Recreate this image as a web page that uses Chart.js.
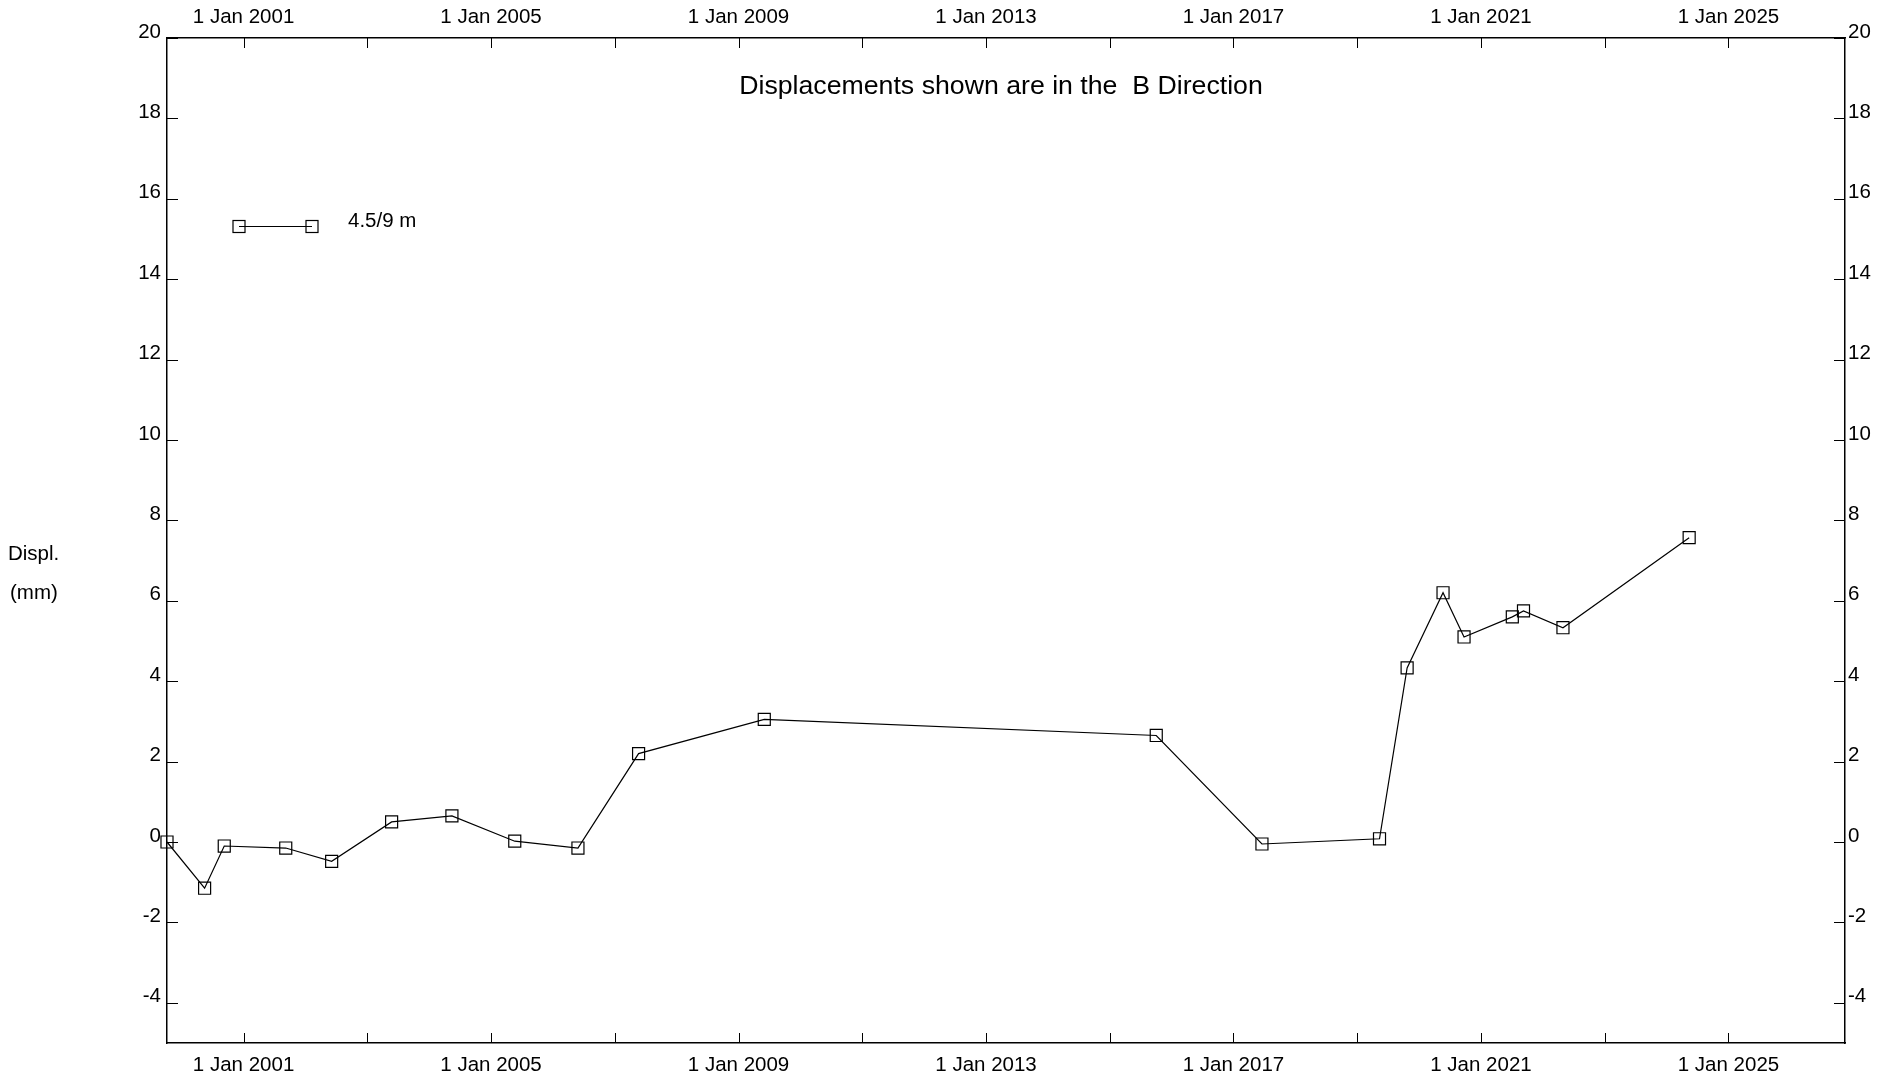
<!DOCTYPE html>
<html>
<head>
<meta charset="utf-8">
<script src="https://cdn.jsdelivr.net/npm/chart.js@4.4.1/dist/chart.umd.min.js"></script>
<style>
html, body { margin: 0; padding: 0; background: #fff; }
#wrap { width: 1892px; height: 1078px; }
</style>
</head>
<body>
<div id="wrap"><canvas id="displChart" width="1892" height="1078"></canvas></div>
<script>
// survey readings
const surveyDates = [
  '1999-10-07', '2000-05-16', '2000-09-09', '2001-09-07', '2002-06-05',
  '2003-05-25', '2004-05-15', '2005-05-21', '2006-05-29', '2007-05-22',
  '2009-06-02', '2015-10-03', '2017-06-18', '2019-05-13', '2019-10-23',
  '2020-05-22', '2020-09-23', '2021-07-05', '2021-09-09', '2022-04-30',
  '2024-05-14'
];
const displMm = [
  0.0, -1.15, -0.1, -0.15, -0.48,
  0.5, 0.65, 0.02, -0.15, 2.2,
  3.05, 2.65, -0.05, 0.08, 4.33,
  6.2, 5.1, 5.6, 5.75, 5.33,
  7.57
];
const tickYears = [2001, 2003, 2005, 2007, 2009, 2011, 2013, 2015, 2017, 2019, 2021, 2023, 2025];
const labelYears = [2001, 2005, 2009, 2013, 2017, 2021, 2025];
const yTicks = [-4, -2, 0, 2, 4, 6, 8, 10, 12, 14, 16, 18, 20];
const seriesName = '4.5/9 m';
const chartTitle = 'Displacements shown are in the  B Direction';
const axisLabel = ['Displ.', '(mm)'];
const xStart = '1999-10-07';
const xEnd = '2026-11-20';
const yMin = -5, yMax = 20;

const FONT = '"Liberation Sans", Arial, sans-serif';
const tickFont = { family: FONT, size: 20.5 };

const toMs = d => Date.parse(d);
const points = surveyDates.map((d, i) => ({ x: toMs(d), y: displMm[i] }));

function xTickLabel(v) {
  const yr = new Date(v).getUTCFullYear();
  return labelYears.includes(yr) ? '1 Jan ' + yr : '';
}
function setXTicks(scale) {
  scale.ticks = tickYears.map(y => ({ value: Date.UTC(y, 0, 1) }));
}
function setYTicks(scale) {
  scale.ticks = yTicks.map(v => ({ value: v }));
}

const noGrid = { display: false, drawTicks: false, tickLength: 0 };
const frameBorder = { display: true, color: '#000', width: 1.5 };

function xAxis(pos, pad, h) {
  return {
    type: 'linear', position: pos,
    min: toMs(xStart), max: toMs(xEnd),
    afterBuildTicks: setXTicks,
    afterFit(s) { s.height = h; },
    grid: noGrid, border: frameBorder,
    ticks: { font: tickFont, color: '#000', padding: pad, autoSkip: false, maxRotation: 0, callback: xTickLabel }
  };
}
function yAxis(pos, pad, w) {
  return {
    type: 'linear', position: pos,
    min: yMin, max: yMax,
    afterBuildTicks: setYTicks,
    afterFit(s) { s.width = w; },
    grid: noGrid, border: frameBorder,
    ticks: { font: tickFont, color: '#000', padding: pad, labelOffset: -6, autoSkip: false }
  };
}

const frameExtras = {
  id: 'frameExtras',
  afterDraw(chart) {
    const ctx = chart.ctx;
    const a = chart.chartArea;
    const xs = chart.scales.x, ys = chart.scales.y;
    ctx.save();
    ctx.strokeStyle = '#000';
    ctx.lineWidth = 1;
    ctx.beginPath();
    xs.ticks.forEach(t => {
      const px = Math.round(xs.getPixelForValue(t.value)) + 0.5;
      ctx.moveTo(px, a.top); ctx.lineTo(px, a.top + 10);
      ctx.moveTo(px, a.bottom); ctx.lineTo(px, a.bottom - 10);
    });
    ys.ticks.forEach(t => {
      const py = Math.round(ys.getPixelForValue(t.value)) + 0.5;
      ctx.moveTo(a.left, py); ctx.lineTo(a.left + 11, py);
      ctx.moveTo(a.right, py); ctx.lineTo(a.right - 11, py);
    });
    ctx.stroke();

    // title inside the plot
    ctx.fillStyle = '#000';
    ctx.font = '26.7px ' + FONT;
    ctx.textAlign = 'center';
    ctx.textBaseline = 'middle';
    ctx.fillText(chartTitle, (a.left + a.right) / 2 - 5, 87);

    // y axis caption, horizontal
    ctx.font = '20.5px ' + FONT;
    ctx.textAlign = 'left';
    ctx.fillText(axisLabel[0], 8, 554);
    ctx.fillText(axisLabel[1], 10, 593);

    // legend
    const ly = 226.5;
    ctx.lineWidth = 1.2;
    ctx.beginPath();
    ctx.moveTo(239, ly); ctx.lineTo(312, ly);
    ctx.stroke();
    [239, 312].forEach(cx => ctx.strokeRect(cx - 6, ly - 6, 12, 12));
    ctx.fillText(seriesName, 348, 221);
    ctx.restore();
  }
};

new Chart(document.getElementById('displChart'), {
  type: 'line',
  data: {
    datasets: [{
      label: seriesName,
      data: points,
      xAxisID: 'x',
      yAxisID: 'y',
      borderColor: '#000',
      borderWidth: 1.2,
      tension: 0,
      fill: false,
      pointStyle: 'rect',
      pointRadius: 8.5,
      pointBorderColor: '#000',
      pointBorderWidth: 1.2,
      pointBackgroundColor: 'rgba(0,0,0,0)',
      clip: false
    }]
  },
  options: {
    responsive: false,
    animation: false,
    devicePixelRatio: 1,
    layout: { padding: 0 },
    plugins: { legend: { display: false }, title: { display: false }, tooltip: { enabled: false } },
    scales: {
      x: xAxis('bottom', 10, 35),
      x2: xAxis('top', 8, 38),
      y: yAxis('left', 6, 167),
      y2: yAxis('right', 3, 47)
    }
  },
  plugins: [frameExtras]
});
</script>
</body>
</html>
